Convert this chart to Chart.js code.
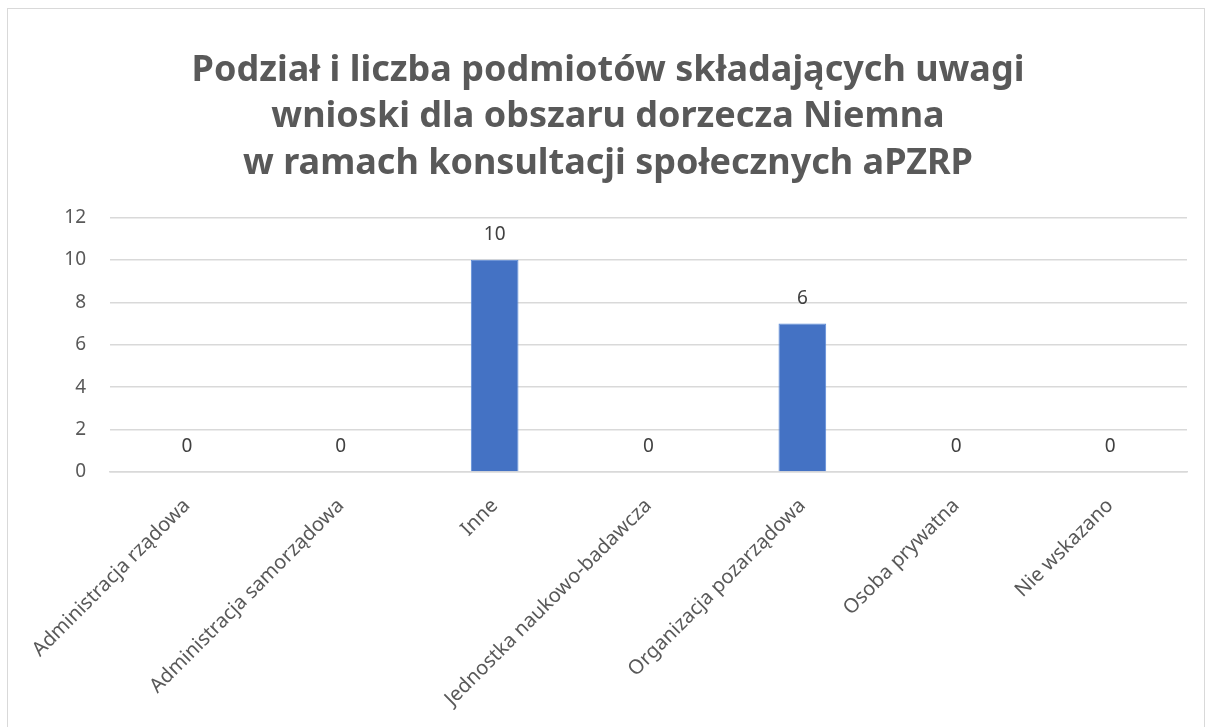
<!DOCTYPE html>
<html lang="pl">
<head>
<meta charset="utf-8">
<script src="https://cdn.jsdelivr.net/npm/chart.js@4.4.0/dist/chart.umd.min.js"></script>
<style>
  html, body { margin: 0; padding: 0; background: #fff; }
  .frame {
    position: absolute; left: 7px; top: 8px; width: 1198px; height: 740px;
    border: 1px solid #d9d9d9; box-sizing: border-box;
  }
  .wrap { position: absolute; left: 0; top: 0; width: 1213px; height: 727px; }
</style>
</head>
<body>
<div class="frame"></div>
<div class="wrap"><canvas id="c"></canvas></div>
<script>
  const categories = ['Administracja rządowa', 'Administracja samorządowa', 'Inne',
    'Jednostka naukowo-badawcza', 'Organizacja pozarządowa', 'Osoba prywatna', 'Nie wskazano'];
  const values = [0, 0, 10, 0, 7, 0, 0];
  // etykiety danych tak jak na oryginale (słupek 7, podpis 6)
  const valueLabels = ['0', '0', '10', '0', '6', '0', '0'];
  const yTicks = [0, 2, 4, 6, 8, 10, 12];

  const grey = '#595959';
  const fontName = "'Noto Sans', sans-serif";

  const labelPlugin = {
    id: 'valueLabels',
    afterDatasetsDraw(chart) {
      const ctx = chart.ctx;
      const meta = chart.getDatasetMeta(0);
      ctx.save();
      ctx.font = "19px " + fontName;
      ctx.fillStyle = '#404040';
      ctx.textAlign = 'center';
      ctx.textBaseline = 'middle';
      meta.data.forEach((bar, i) => {
        ctx.fillText(valueLabels[i], bar.x, bar.y - 25);
      });
      ctx.restore();
    }
  };

  new Chart(document.getElementById('c'), {
    type: 'bar',
    data: {
      labels: categories,
      datasets: [{
        data: values,
        backgroundColor: '#4472c4',
        borderColor: '#5b8bd9',
        borderWidth: 1,
        barPercentage: 0.31,
        categoryPercentage: 1
      }]
    },
    options: {
      responsive: true,
      maintainAspectRatio: false,
      animation: false,
      layout: { padding: { left: 29, right: 26, top: 0, bottom: 0 } },
      plugins: {
        legend: { display: false },
        tooltip: { enabled: false },
        title: {
          display: true,
          text: ['Podział i liczba podmiotów składających uwagi',
                 'wnioski dla obszaru dorzecza Niemna',
                 'w ramach konsultacji społecznych aPZRP'],
          color: grey,
          font: { family: fontName, size: 36, weight: 'bold', lineHeight: 1.3 },
          padding: { top: 47, bottom: 30 }
        }
      },
      scales: {
        y: {
          min: 0, max: 12,
          afterBuildTicks(scale) { scale.ticks = yTicks.map(v => ({ value: v })); },
          afterFit(scale) { scale.width = 81; },
          border: { display: false },
          grid: { color: '#d9d9d9', lineWidth: 1.5, drawTicks: false },
          ticks: { color: grey, padding: 24, font: { family: fontName, size: 19 } }
        },
        x: {
          afterFit(scale) { scale.height = 255; },
          border: { color: '#d9d9d9', width: 1.5 },
          grid: { display: false },
          ticks: {
            color: grey, minRotation: 45, maxRotation: 45, padding: 14,
            font: { family: fontName, size: 20 }
          }
        }
      }
    },
    plugins: [labelPlugin]
  });
</script>
</body>
</html>
